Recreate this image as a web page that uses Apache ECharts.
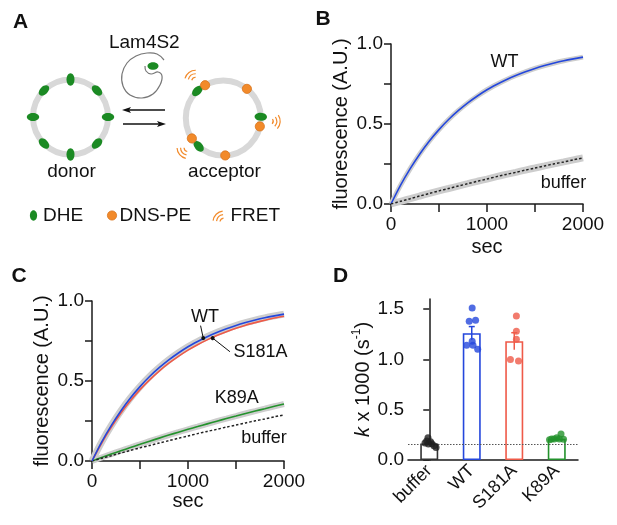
<!DOCTYPE html>
<html><head><meta charset="utf-8">
<script src="https://cdn.jsdelivr.net/npm/echarts@6/dist/echarts.min.js"></script>
<style>html,body{margin:0;padding:0;background:#fff}#c{width:617px;height:525px}</style>
</head><body><div id="c"></div>
<script>
// ---------- data ----------
const timeSec   = [0,100,200,300,400,500,600,700,800,900,1000,1100,1200,1300,1400,1500,1600,1700,1800,1900,2000];
const wtFit     = [0,0.118,0.221,0.313,0.394,0.465,0.528,0.583,0.632,0.675,0.714,0.747,0.777,0.803,0.826,0.847,0.865,0.881,0.895,0.907,0.918];
const s181aFit  = [0,0.111,0.210,0.298,0.376,0.446,0.507,0.562,0.611,0.654,0.693,0.727,0.757,0.784,0.808,0.830,0.849,0.865,0.880,0.894,0.905];
const k89aFit   = [0,0.022,0.043,0.064,0.084,0.104,0.124,0.143,0.162,0.180,0.198,0.215,0.232,0.249,0.265,0.281,0.297,0.312,0.327,0.342,0.356];
const bufferFit = [0,0.017,0.033,0.050,0.066,0.082,0.097,0.112,0.127,0.142,0.156,0.171,0.185,0.198,0.212,0.225,0.238,0.251,0.263,0.276,0.288];

const barCats  = ['buffer','WT','S181A','K89A'];
const barMeans = [0.165, 1.26, 1.18, 0.21];
const barSem   = [0.012, 0.066, 0.085, 0.008];
const bufferBaseline = 0.162;
// [jitter offset (category units), k x 1000]
const dotsBuffer = [[-0.03,0.222],[-0.06,0.189],[0.03,0.182],[0.06,0.162],[-0.02,0.160],[0.11,0.142],[0.16,0.125],[-0.10,0.170]];
const dotsWT     = [[0.01,1.51],[-0.06,1.38],[0.09,1.39],[0.01,1.18],[-0.12,1.14],[0.03,1.14],[0.14,1.10]];
const dotsS181A  = [[0.05,1.43],[0.05,1.28],[0.05,1.20],[-0.09,1.00],[0.10,0.985]];
const dotsK89A   = [[0.10,0.258],[0.00,0.222],[-0.12,0.209],[-0.06,0.209],[0.06,0.209],[0.16,0.206],[-0.17,0.202]];
const dotGroups  = [dotsBuffer, dotsWT, dotsS181A, dotsK89A];

const xTickLabels = [0, 1000, 2000];
const yTickLabels = [0, 0.5, 1.0];
const dTickValues = [0, 0.5, 1.0, 1.5];

// schematic (panel A) angles in degrees
const donorAngles    = [-90,-45,0,45,90,135,180,225];
const accOrangeAngles = [-119,-51,13,147,87];
const accGreenAngles  = [-134,-2,131];
const fretAngles      = [-127,4,140];

// ---------- styles ----------
const FONT = '"Liberation Sans", Arial, Helvetica, sans-serif';
const INK = '#111';
const BLUE = '#2447dc', RED = '#ef5a48', GREEN = '#23922c', DARK = '#333';
const barColors = [DARK, BLUE, RED, GREEN];
const GREY = '#cdcdcd';
const DHE = '#1b8a23', DNS = '#f28a2a', DNS_EDGE = '#d8731c';

const chart = echarts.init(document.getElementById('c'), null, {renderer:'canvas'});
const pairs = vals => timeSec.map((t,i)=>[t, vals[i]]);

function kinX(gi, gap){
  return {type:'value', gridIndex:gi, min:0, max:2000, interval:500,
    axisLine:{onZero:false, lineStyle:{color:'#1a1a1a', width:1.5}},
    axisTick:{length:8, lineStyle:{color:'#1a1a1a', width:1.5}},
    axisLabel:{formatter:v=> xTickLabels.includes(v)? String(v):'', fontSize:19, color:INK, fontFamily:FONT, margin:11},
    splitLine:{show:false},
    name:'sec', nameLocation:'middle', nameGap:gap, nameTextStyle:{fontSize:20, color:INK, fontFamily:FONT}};
}
function kinY(gi){
  return {type:'value', gridIndex:gi, min:0, max:1, interval:0.25,
    axisLine:{show:true, lineStyle:{color:'#1a1a1a', width:1.5}},
    axisTick:{show:true, length:7, lineStyle:{color:'#1a1a1a', width:1.5}},
    axisLabel:{formatter:v=> yTickLabels.some(t=>Math.abs(t-v)<1e-9)? v.toFixed(1):'', fontSize:19, color:INK, fontFamily:FONT, margin:8},
    splitLine:{show:false},
    name:'fluorescence (A.U.)', nameLocation:'middle', nameGap:40, nameRotate:90,
    nameTextStyle:{fontSize:20, color:INK, fontFamily:FONT}};
}
function line(xi, vals, color, width, extra){
  return Object.assign({type:'line', xAxisIndex:xi, yAxisIndex:xi, data:pairs(vals), showSymbol:false, symbol:'none',
    smooth:0.3, silent:true, lineStyle:{color, width}}, extra||{});
}

// ---------- schematic graphics ----------
const g = [];
const rad = d => d*Math.PI/180;
function txt(x,y,text,size,opts){
  g.push({type:'text', x, y, style:Object.assign({text, fontSize:size, fontFamily:FONT, fill:INK,
    textAlign:'center', textVerticalAlign:'middle', align:'center', verticalAlign:'middle'}, opts||{}), silent:true});
}
function ellipseAt(cx,cy,ang){
  g.push({type:'ellipse', x:cx, y:cy, rotation:rad(ang-90), shape:{cx:0, cy:0, rx:4, ry:6.2}, style:{fill:DHE}, silent:true});
}
function orangeAt(cx,cy){
  g.push({type:'circle', shape:{cx, cy, r:4.6}, style:{fill:DNS, stroke:DNS_EDGE, lineWidth:0.8}, silent:true});
}
function fretAt(cx,cy,ang){
  [4,7.5,11].forEach(r=>g.push({type:'arc', shape:{cx, cy, r, startAngle:rad(ang-38), endAngle:rad(ang+38), clockwise:true},
    style:{stroke:DNS, fill:null, lineWidth:1.2}, silent:true}));
}
// donor
const dC=[70.5,117], aC=[223.3,118], R=37.5;
g.push({type:'circle', shape:{cx:dC[0], cy:dC[1], r:R}, style:{fill:null, stroke:'#d8d8d8', lineWidth:6}, silent:true});
donorAngles.forEach(a=>ellipseAt(dC[0]+R*Math.cos(rad(a)), dC[1]+R*Math.sin(rad(a)), a));
// acceptor
g.push({type:'circle', shape:{cx:aC[0], cy:aC[1], r:R}, style:{fill:null, stroke:'#d8d8d8', lineWidth:6}, silent:true});
accGreenAngles.forEach(a=>ellipseAt(aC[0]+R*Math.cos(rad(a)), aC[1]+R*Math.sin(rad(a)), a));
accOrangeAngles.forEach(a=>orangeAt(aC[0]+R*Math.cos(rad(a)), aC[1]+R*Math.sin(rad(a))));
fretAngles.forEach(a=>fretAt(aC[0]+46*Math.cos(rad(a)), aC[1]+46*Math.sin(rad(a)), a));
// protein
g.push({type:'polyline', shape:{points:[[164,60],[157,54],[147,53],[136,56],[127,63],[122,74],[123,86],[130,95],[142,98],[153,94],[160,85],[162,76],[158,72],[151,74],[146,71],[145,66]], smooth:0.4},
  style:{stroke:'#777', fill:null, lineWidth:1.2}, silent:true});
g.push({type:'ellipse', shape:{cx:153, cy:66, rx:5.5, ry:3.8}, style:{fill:DHE}, silent:true});
// arrows
g.push({type:'line', shape:{x1:165,y1:110,x2:127,y2:110}, style:{stroke:'#111', lineWidth:1.3}, silent:true});
g.push({type:'polygon', shape:{points:[[122,110],[131,107],[129,110],[131,113]]}, style:{fill:'#111'}, silent:true});
g.push({type:'line', shape:{x1:123,y1:124,x2:161,y2:124}, style:{stroke:'#111', lineWidth:1.3}, silent:true});
g.push({type:'polygon', shape:{points:[[166,124],[157,121],[159,124],[157,127]]}, style:{fill:'#111'}, silent:true});
// texts
txt(144.3,43,'Lam4S2',19);
txt(71.5,172,'donor',19);
txt(224.5,172,'acceptor',19);
// legend
g.push({type:'ellipse', shape:{cx:33.5, cy:215.5, rx:3.6, ry:5.2}, style:{fill:DHE}, silent:true});
txt(43,215.5,'DHE',19,{textAlign:'left', align:'left'});
orangeAt(112,215.5);
txt(119.5,215.5,'DNS-PE',19,{textAlign:'left', align:'left'});
fretAt(224,222,-135);
txt(230.5,215.5,'FRET',19,{textAlign:'left', align:'left'});
// panel letters
[['A',20.5,22],['B',323,19.5],['C',19,276],['D',340.5,276]].forEach(p=>txt(p[1],p[2],p[0],21,{fontWeight:'bold'}));
// curve annotations
txt(504.5,62,'WT',18); txt(563.5,183,'buffer',18);
txt(205,317,'WT',18); txt(260.5,352,'S181A',18); txt(236.7,398.5,'K89A',18); txt(264,438.5,'buffer',18);

// ---------- option ----------
const option = {
  animation:false,
  backgroundColor:'#fff',
  textStyle:{fontFamily:FONT},
  graphic:{elements:g},
  grid:[
    {left:391, top:44, width:192, height:160},
    {left:92, top:301, width:192, height:160},
    {left:408, top:299, width:170, height:161}
  ],
  xAxis:[
    kinX(0,33), kinX(1,30),
    {type:'category', gridIndex:2, data:barCats,
      axisLine:{onZero:false, lineStyle:{color:'#1a1a1a', width:1.5}},
      axisTick:{alignWithLabel:true, length:5, lineStyle:{color:'#1a1a1a', width:1.5}},
      axisLabel:{rotate:45, fontSize:18, color:INK, fontFamily:FONT, margin:8, interval:0}},
    {type:'value', gridIndex:2, min:-0.5, max:3.5, show:false}
  ],
  yAxis:[
    kinY(0), kinY(1),
    {type:'value', gridIndex:2, min:0, max:1.6, offset:-5,
      axisLine:{show:true, lineStyle:{color:'#1a1a1a', width:1.5}},
      axisTick:{show:true, length:6, customValues:dTickValues, lineStyle:{color:'#1a1a1a', width:1.5}},
      axisLabel:{customValues:dTickValues, formatter:v=>v.toFixed(1), fontSize:19, color:INK, fontFamily:FONT, margin:9},
      splitLine:{show:false},
      name:'{it|k} x 1000 (s{sup|-1})', nameLocation:'middle', nameGap:38, nameRotate:90,
      nameTextStyle:{fontSize:20, color:INK, fontFamily:FONT,
        rich:{it:{fontStyle:'italic', fontSize:20, fontFamily:FONT, color:INK},
              sup:{fontSize:12, fontFamily:FONT, color:INK, verticalAlign:'top', lineHeight:24}}}}
  ],
  series:[
    // panel B
    line(0, wtFit, GREY, 5, {z:1}),
    line(0, bufferFit, GREY, 7, {z:1}),
    line(0, wtFit, BLUE, 1.6, {z:3}),
    line(0, bufferFit, '#222', 1.5, {z:3, lineStyle:{color:'#222', width:1.5, type:[2.5,2]}}),
    // panel C
    line(1, wtFit, GREY, 7, {z:1}),
    line(1, k89aFit, GREY, 6, {z:1}),
    line(1, s181aFit, RED, 1.6, {z:3}),
    line(1, wtFit, BLUE, 1.6, {z:4,
      markLine:{silent:true, symbol:['none','circle'], symbolSize:4, label:{show:false},
        lineStyle:{color:'#111', width:1, type:'solid'}, emphasis:{disabled:true},
        data:[[{coord:[1131,0.846]},{coord:[1159,0.768]}], [{coord:[1437,0.683]},{coord:[1257,0.768]}]]}}),
    line(1, k89aFit, GREEN, 1.6, {z:3}),
    line(1, bufferFit, '#222', 1.5, {z:3, lineStyle:{color:'#222', width:1.5, type:[2.5,2]}}),
    // panel D baseline
    {type:'line', xAxisIndex:2, yAxisIndex:2, data:[], z:1, silent:true,
      markLine:{silent:true, symbol:'none', label:{show:false}, lineStyle:{color:'#555', width:1, type:[1.5,1.5]},
        data:[{yAxis:bufferBaseline}]}},
    {type:'bar', xAxisIndex:2, yAxisIndex:2, barWidth:18, z:2, silent:true,
      data:barMeans.map((v,i)=>({value:v, itemStyle:{color:'#fff', borderColor:barColors[i], borderWidth:1.6}}))},
    {type:'custom', xAxisIndex:2, yAxisIndex:2, z:4, silent:true,
      data:barMeans.map((v,i)=>[i, v, barSem[i]]),
      encode:{x:0, y:1},
      renderItem:(params, api)=>{
        const x=api.value(0), m=api.value(1), s=api.value(2);
        const hi=api.coord([x, m+s]), lo=api.coord([x, m-s]);
        const col=barColors[params.dataIndex];
        return {type:'group', children:[
          {type:'line', shape:{x1:hi[0],y1:hi[1],x2:lo[0],y2:lo[1]}, style:{stroke:col, lineWidth:1.5}},
          {type:'line', shape:{x1:hi[0]-3,y1:hi[1],x2:hi[0]+3,y2:hi[1]}, style:{stroke:col, lineWidth:1.5}}
        ]};
      }},
    ...dotGroups.map((grp,i)=>({type:'scatter', xAxisIndex:3, yAxisIndex:2, z:5, silent:true,
      symbolSize:7, itemStyle:{color: i===0 ? '#222' : barColors[i]},
      data:grp.map(d=>[i+d[0], d[1]])}))
  ]
};
chart.setOption(option);
</script></body></html>
